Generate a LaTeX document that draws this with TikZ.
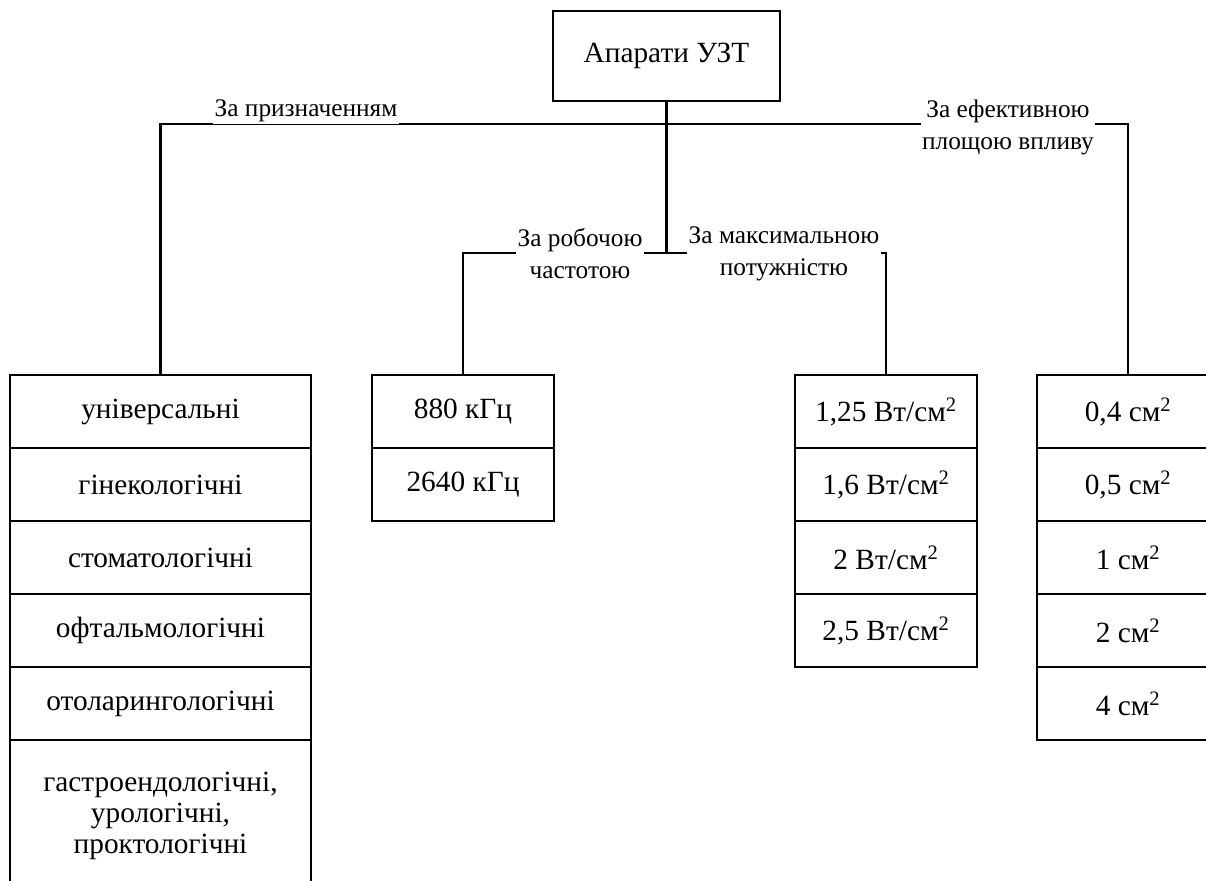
\documentclass[tikz,border=0pt]{standalone}
\usepackage{fontspec}
\setmainfont{Liberation Serif}
\usepackage{tikz}
\usetikzlibrary{positioning}

\begin{document}
\begin{tikzpicture}[x=0.75pt,y=-0.75pt,
    cell/.style={draw,line width=0.8pt,outer sep=0pt,inner sep=2pt,
                 minimum height=54.75pt,align=center,
                 font=\fontsize{22}{23.5}\selectfont},
    wide/.style={cell,minimum width=225.75pt},
    narrow/.style={cell,minimum width=136.5pt},
    tag/.style={fill=white,inner sep=1pt,align=center,
                font=\fontsize{19}{24}\selectfont},
    link/.style={line width=2pt}]
    \clip (0,0) rectangle (1206,881);

    \node[cell,minimum width=170.25pt,minimum height=67.5pt] (top) at (666.5,56) {Апарати УЗТ};
    \coordinate (hub) at (666.5,124);
    \coordinate (mid) at (666.5,253);

    % за призначенням
    \node[wide] (univ) at (160.5,411.5) {універсальні};
    \node[wide,below=0pt of univ] (gyn) {гінекологічні};
    \node[wide,below=0pt of gyn] (stom) {стоматологічні};
    \node[wide,below=0pt of stom] (oph) {офтальмологічні};
    \node[wide,below=0pt of oph] (oto) {отоларингологічні};
    \node[wide,below=0pt of oto,minimum height=114pt] (gastro)
        {гастроендологічні,\\урологічні,\\проктологічні};

    % за частотою
    \node[narrow] (f1) at (463,411.5) {880 кГц};
    \node[narrow,below=0pt of f1] (f2) {2640 кГц};

    % за потужністю
    \node[narrow] (p1) at (886,411.5) {1,25 Вт/см\textsuperscript{2}};
    \node[narrow,below=0pt of p1] (p2) {1,6 Вт/см\textsuperscript{2}};
    \node[narrow,below=0pt of p2] (p3) {2 Вт/см\textsuperscript{2}};
    \node[narrow,below=0pt of p3] (p4) {2,5 Вт/см\textsuperscript{2}};

    % за площею
    \node[narrow] (a1) at (1128,411.5) {0,4 см\textsuperscript{2}};
    \node[narrow,below=0pt of a1] (a2) {0,5 см\textsuperscript{2}};
    \node[narrow,below=0pt of a2] (a3) {1 см\textsuperscript{2}};
    \node[narrow,below=0pt of a3] (a4) {2 см\textsuperscript{2}};
    \node[narrow,below=0pt of a4] (a5) {4 см\textsuperscript{2}};

    \draw[link] (top.south) -- (mid);
    \draw[link] (univ.north) |- (hub) -| (a1.north);
    \draw[link] (f1.north) |- (mid) -| (p1.north);

    \node[tag,anchor=base] (byuse) at (306,117) {За призначенням};
    \node[tag] (byfreq) at (580,254) {За робочою\\частотою};
    \node[tag] (bypower) at (784,254) {За максимальною\\потужністю};
    \node[tag] (byarea) at (1008,127) {За ефективною\\площою впливу};
\end{tikzpicture}
\end{document}
